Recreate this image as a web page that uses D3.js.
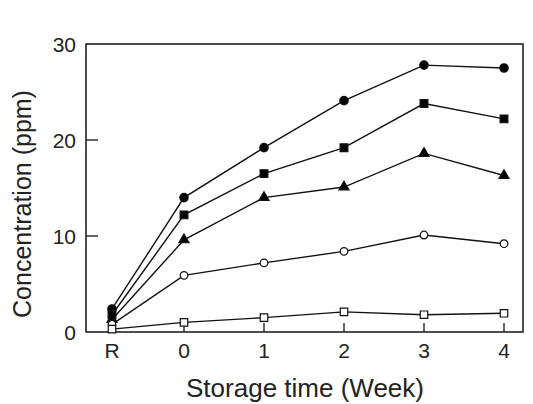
<!DOCTYPE html>
<html>
<head>
<meta charset="utf-8">
<script src="https://cdn.jsdelivr.net/npm/d3@7"></script>
<style>
  body { margin: 0; background: #fff; }
  text { font-family: "Liberation Sans", Arial, sans-serif; fill: #222; }
</style>
</head>
<body>
<script>
// x positions: R is the raw sample, then storage weeks 0..4
const xKeys = [-0.9, 0, 1, 2, 3, 4];
const xLabels = ["R", "0", "1", "2", "3", "4"];
const yTicks = [0, 10, 20, 30];

const filledCircle = [2.4, 14.0, 19.2, 24.1, 27.8, 27.5];
const filledSquare = [1.8, 12.2, 16.5, 19.2, 23.8, 22.2];
const filledTriangle = [1.3, 9.6, 14.0, 15.1, 18.6, 16.3];
const openCircle = [0.8, 5.9, 7.2, 8.4, 10.1, 9.2];
const openSquare = [0.3, 1.0, 1.5, 2.1, 1.8, 1.95];

const series = [
  {values: filledCircle, shape: d3.symbolCircle, size: 56, fill: "#000"},
  {values: filledSquare, shape: d3.symbolSquare, size: 60, fill: "#000"},
  {values: filledTriangle, shape: d3.symbolTriangle, size: 44, fill: "#000"},
  {values: openCircle, shape: d3.symbolCircle, size: 46, fill: "#fff"},
  {values: openSquare, shape: d3.symbolSquare, size: 56, fill: "#fff"}
];

const width = 533, height = 404;

const svg = d3.select("body").append("svg")
    .attr("width", width)
    .attr("height", height);

const x = d3.scaleLinear().domain([-0.9, 4]).range([112, 504]);
const y = d3.scaleLinear().domain([0, 30]).range([332, 44]);

// frame
svg.append("rect")
    .attr("x", 86).attr("y", 44)
    .attr("width", 523 - 86).attr("height", 332 - 44)
    .attr("fill", "none")
    .attr("stroke", "#222")
    .attr("stroke-width", 1.6);

// y ticks (inward)
svg.append("g").selectAll("line")
  .data(yTicks.slice(1, -1))
  .join("line")
    .attr("x1", 86).attr("x2", 98)
    .attr("y1", d => y(d)).attr("y2", d => y(d))
    .attr("stroke", "#222").attr("stroke-width", 1.4);

svg.append("g").selectAll("text")
  .data(yTicks)
  .join("text")
    .attr("x", 76)
    .attr("y", d => y(d) + 8)
    .attr("text-anchor", "end")
    .style("font-size", "21px")
    .text(d => d);

// x ticks (inward)
svg.append("g").selectAll("line")
  .data(xKeys.slice(1))
  .join("line")
    .attr("x1", d => x(d)).attr("x2", d => x(d))
    .attr("y1", 332).attr("y2", 323)
    .attr("stroke", "#222").attr("stroke-width", 1.4);

svg.append("g").selectAll("text")
  .data(xKeys)
  .join("text")
    .attr("x", d => x(d))
    .attr("y", 358)
    .attr("text-anchor", "middle")
    .style("font-size", "21px")
    .text((d, i) => xLabels[i]);

// axis titles
svg.append("text")
    .attr("x", 305)
    .attr("y", 397)
    .attr("text-anchor", "middle")
    .style("font-size", "26px")
    .text("Storage time (Week)");

svg.append("text")
    .attr("transform", "translate(31,204) rotate(-90)")
    .attr("text-anchor", "middle")
    .style("font-size", "25px")
    .text("Concentration (ppm)");

const line = d3.line()
    .x((d, i) => x(xKeys[i]))
    .y(d => y(d));

const g = svg.append("g");
for (const s of series) {
  g.append("path")
      .attr("d", line(s.values))
      .attr("fill", "none")
      .attr("stroke", "#111")
      .attr("stroke-width", 1.4);
}
for (const s of series) {
  g.append("g").selectAll("path")
    .data(s.values)
    .join("path")
      .attr("transform", (d, i) => `translate(${x(xKeys[i])},${y(d)})`)
      .attr("d", d3.symbol().type(s.shape).size(s.size))
      .attr("fill", s.fill)
      .attr("stroke", "#111")
      .attr("stroke-width", 1.2);
}
</script>
</body>
</html>
